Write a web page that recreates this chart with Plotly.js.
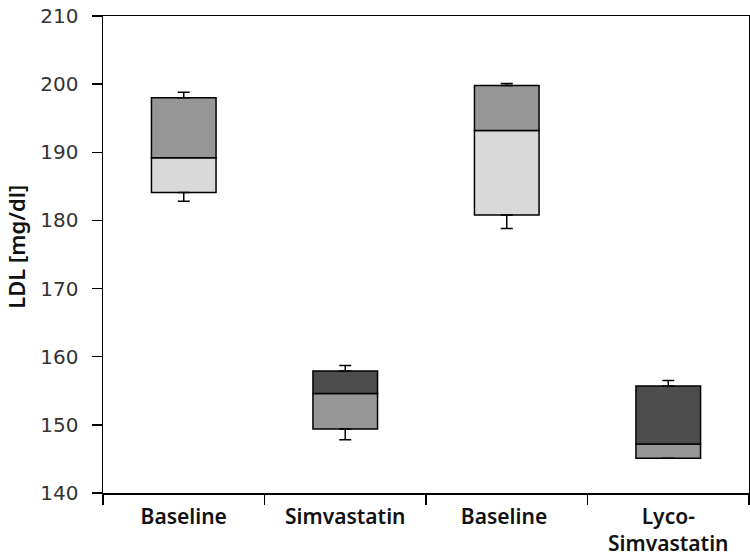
<!DOCTYPE html>
<html>
<head>
<meta charset="utf-8">
<script src="https://cdn.plot.ly/plotly-3.0.1.min.js"></script>
<style>html,body{margin:0;padding:0;background:#fff;}#chart{width:750px;height:558px;}</style>
</head>
<body>
<div id="chart"></div>
<script>
// Data
var categories = ["Baseline", "Simvastatin", "Baseline ", "Lyco-<br>Simvastatin"];
var minVals    = [182.8, 147.8, 178.8, 145.1];
var q1Vals     = [184.1, 149.4, 180.8, 145.1];
var medianVals = [189.2, 154.6, 193.2, 147.2];
var q3Vals     = [198.0, 157.9, 199.8, 155.7];
var maxVals    = [198.8, 158.7, 200.1, 156.5];
var lowerColors = ["#d9d9d9", "#969696", "#d9d9d9", "#969696"];
var upperColors = ["#969696", "#4d4d4d", "#969696", "#4d4d4d"];
var yTitle = "LDL [mg/dl]";

var lowerBar = {
  type: "bar", x: categories,
  base: q1Vals,
  y: q1Vals.map(function(v, i){ return medianVals[i] - v; }),
  width: 0.4,
  marker: {color: lowerColors, line: {color: "#000", width: 1.5}},
  hoverinfo: "skip", showlegend: false
};
var upperBar = {
  type: "bar", x: categories,
  base: medianVals,
  y: medianVals.map(function(v, i){ return q3Vals[i] - v; }),
  width: 0.4,
  marker: {color: upperColors, line: {color: "#000", width: 1.5}},
  hoverinfo: "skip", showlegend: false
};
var upperWhisker = {
  type: "scatter", mode: "markers", x: categories, y: maxVals,
  marker: {size: 1, opacity: 0},
  error_y: {type: "data", symmetric: false,
    array: maxVals.map(function(){ return 0; }),
    arrayminus: maxVals.map(function(v, i){ return v - q3Vals[i]; }),
    color: "#000", thickness: 1.5, width: 6},
  hoverinfo: "skip", showlegend: false
};
var lowerWhisker = {
  type: "scatter", mode: "markers", x: categories, y: minVals,
  marker: {size: 1, opacity: 0},
  error_y: {type: "data", symmetric: false,
    array: minVals.map(function(v, i){ return q1Vals[i] - v; }),
    arrayminus: minVals.map(function(){ return 0; }),
    color: "#000", thickness: 1.5, width: 6},
  hoverinfo: "skip", showlegend: false
};

var layout = {
  width: 750, height: 558,
  margin: {l: 103, r: 1, t: 16, b: 65},
  paper_bgcolor: "#fff", plot_bgcolor: "#fff",
  barmode: "overlay",
  showlegend: false,
  font: {family: "Noto Sans, sans-serif", color: "#1a1a1a"},
  xaxis: {
    type: "category",
    tickson: "boundaries",
    ticks: "outside", ticklen: 10, tickwidth: 1.5, tickcolor: "#000",
    showline: true, linecolor: "#000", linewidth: 1.5, mirror: true,
    showgrid: false, zeroline: false,
    tickfont: {family: "Noto Sans, sans-serif", size: 21, weight: 600, color: "#111"},
    ticklabelstandoff: 4,
    range: [-0.5, 3.5]
  },
  yaxis: {
    range: [140, 210],
    tickmode: "array",
    tickvals: [140, 150, 160, 170, 180, 190, 200, 210],
    ticktext: ["140", "150", "160", "170", "180", "190", "200", "210"],
    ticks: "outside", ticklen: 10, tickwidth: 1.5, tickcolor: "#000",
    showline: true, linecolor: "#000", linewidth: 1.5, mirror: true,
    showgrid: false, zeroline: false,
    tickfont: {family: "DejaVu Sans, sans-serif", size: 20, color: "#333"},
    ticklabelstandoff: 9
  },
  annotations: [{
    text: yTitle, textangle: -90, showarrow: false,
    xref: "paper", yref: "paper", x: -0.1347, y: 0.516,
    xanchor: "center", yanchor: "middle", borderpad: 0,
    font: {family: "Noto Sans, sans-serif", size: 22, weight: 600, color: "#111"}
  }]
};

Plotly.newPlot("chart", [lowerBar, upperBar, upperWhisker, lowerWhisker], layout, {displayModeBar: false, staticPlot: true});
</script>
</body>
</html>
